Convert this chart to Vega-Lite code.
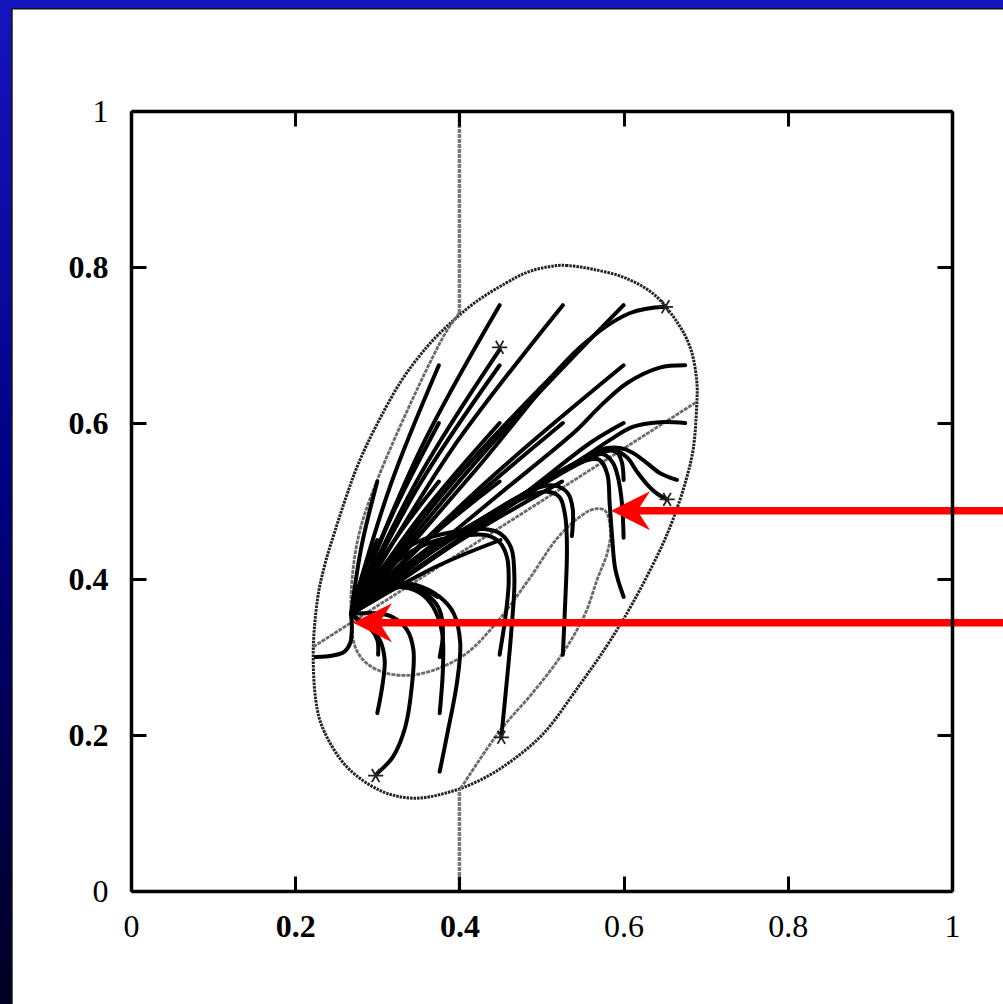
{
"$schema": "https://vega.github.io/schema/vega-lite/v6.json",
"width": 821, "height": 780,
"autosize": {"type": "none"},
"padding": {"left": 131, "top": 111, "right": 51, "bottom": 113},
"background": "#00005a",
"config": {"view": {"stroke": null, "fill": null}},
"resolve": {"axis": {"x": "independent", "y": "independent"}},
"datasets": {
"bg": [{"x": -0.3, "x2": 1.2, "y": -0.3, "y2": 1.3}],
"panel": [{"x": -0.145, "x2": 1.2, "y": -0.3, "y2": 1.131}],
"vline": [{"x": 0.4, "y": 0.741, "y2": 1}, {"x": 0.4, "y": 0, "y2": 0.129}],
"ellipse": [
{"i":0,"x":0.507,"y":0.800},{"i":1,"x":0.53,"y":0.802},{"i":2,"x":0.563,"y":0.797},{"i":3,"x":0.602,"y":0.786},{"i":4,"x":0.638,"y":0.764},{"i":5,"x":0.666,"y":0.728},{"i":6,"x":0.682,"y":0.694},{"i":7,"x":0.689,"y":0.655},{"i":8,"x":0.689,"y":0.621},{"i":9,"x":0.685,"y":0.568},{"i":10,"x":0.675,"y":0.523},{"i":11,"x":0.66,"y":0.476},{"i":12,"x":0.642,"y":0.432},{"i":13,"x":0.611,"y":0.369},{"i":14,"x":0.58,"y":0.315},{"i":15,"x":0.545,"y":0.262},{"i":16,"x":0.505,"y":0.205},{"i":17,"x":0.465,"y":0.168},{"i":18,"x":0.425,"y":0.142},{"i":19,"x":0.385,"y":0.126},{"i":20,"x":0.344,"y":0.119},{"i":21,"x":0.303,"y":0.129},{"i":22,"x":0.263,"y":0.159},{"i":23,"x":0.236,"y":0.203},{"i":24,"x":0.225,"y":0.245},{"i":25,"x":0.222,"y":0.309},{"i":26,"x":0.227,"y":0.373},{"i":27,"x":0.236,"y":0.418},{"i":28,"x":0.248,"y":0.46},{"i":29,"x":0.262,"y":0.505},{"i":30,"x":0.277,"y":0.548},{"i":31,"x":0.298,"y":0.595},{"i":32,"x":0.328,"y":0.652},{"i":33,"x":0.36,"y":0.697},{"i":34,"x":0.389,"y":0.728},{"i":35,"x":0.421,"y":0.756},{"i":36,"x":0.456,"y":0.779},{"i":37,"x":0.482,"y":0.793}
],
"nullclines": [
{"id":"line","i":0,"x":0.222,"y":0.313},{"id":"line","i":1,"x":0.689,"y":0.627},
{"id":"cubic","i":0,"x":0.40,"y":0.741},{"id":"cubic","i":1,"x":0.385,"y":0.719},{"id":"cubic","i":2,"x":0.348,"y":0.642},{"id":"cubic","i":3,"x":0.30,"y":0.527},{"id":"cubic","i":4,"x":0.279,"y":0.463},{"id":"cubic","i":5,"x":0.27,"y":0.408},{"id":"cubic","i":6,"x":0.268,"y":0.36},{"id":"cubic","i":7,"x":0.273,"y":0.313},{"id":"cubic","i":8,"x":0.287,"y":0.292},{"id":"cubic","i":9,"x":0.312,"y":0.279},{"id":"cubic","i":10,"x":0.343,"y":0.277},{"id":"cubic","i":11,"x":0.376,"y":0.286},{"id":"cubic","i":12,"x":0.409,"y":0.305},{"id":"cubic","i":13,"x":0.446,"y":0.345},{"id":"cubic","i":14,"x":0.485,"y":0.40},{"id":"cubic","i":15,"x":0.519,"y":0.452},{"id":"cubic","i":16,"x":0.547,"y":0.48},{"id":"cubic","i":17,"x":0.565,"y":0.49},{"id":"cubic","i":18,"x":0.578,"y":0.487},{"id":"cubic","i":19,"x":0.584,"y":0.46},{"id":"cubic","i":20,"x":0.58,"y":0.433},{"id":"cubic","i":21,"x":0.568,"y":0.40},{"id":"cubic","i":22,"x":0.553,"y":0.355},{"id":"cubic","i":23,"x":0.526,"y":0.305},{"id":"cubic","i":24,"x":0.49,"y":0.255},{"id":"cubic","i":25,"x":0.449,"y":0.205},{"id":"cubic","i":26,"x":0.40,"y":0.129}
],
"traj": [
{"id":"t1","i":0,"x":0.449,"y":0.751},{"id":"t1","i":1,"x":0.352,"y":0.565},{"id":"t1","i":2,"x":0.268,"y":0.355},
{"id":"t2","i":0,"x":0.526,"y":0.751},{"id":"t2","i":1,"x":0.39,"y":0.565},{"id":"t2","i":2,"x":0.268,"y":0.355},
{"id":"t3","i":0,"x":0.6,"y":0.751},{"id":"t3","i":1,"x":0.43,"y":0.562},{"id":"t3","i":2,"x":0.268,"y":0.355},
{"id":"t4","i":0,"x":0.651,"y":0.749},{"id":"t4","i":1,"x":0.608,"y":0.741},{"id":"t4","i":2,"x":0.547,"y":0.697},{"id":"t4","i":3,"x":0.42,"y":0.54},{"id":"t4","i":4,"x":0.268,"y":0.355},
{"id":"t5","i":0,"x":0.375,"y":0.674},{"id":"t5","i":1,"x":0.316,"y":0.52},{"id":"t5","i":2,"x":0.268,"y":0.355},
{"id":"t6","i":0,"x":0.449,"y":0.674},{"id":"t6","i":1,"x":0.352,"y":0.522},{"id":"t6","i":2,"x":0.268,"y":0.355},
{"id":"t7","i":0,"x":0.526,"y":0.674},{"id":"t7","i":1,"x":0.39,"y":0.522},{"id":"t7","i":2,"x":0.268,"y":0.355},
{"id":"t8","i":0,"x":0.6,"y":0.674},{"id":"t8","i":1,"x":0.428,"y":0.52},{"id":"t8","i":2,"x":0.268,"y":0.355},
{"id":"t9","i":0,"x":0.675,"y":0.674},{"id":"t9","i":1,"x":0.644,"y":0.671},{"id":"t9","i":2,"x":0.604,"y":0.651},{"id":"t9","i":3,"x":0.571,"y":0.621},{"id":"t9","i":4,"x":0.543,"y":0.591},{"id":"t9","i":5,"x":0.45,"y":0.51},{"id":"t9","i":6,"x":0.36,"y":0.432},{"id":"t9","i":7,"x":0.268,"y":0.355},
{"id":"t10","i":0,"x":0.449,"y":0.694},{"id":"t10","i":1,"x":0.352,"y":0.533},{"id":"t10","i":2,"x":0.268,"y":0.355},
{"id":"t11","i":0,"x":0.375,"y":0.6},{"id":"t11","i":1,"x":0.318,"y":0.482},{"id":"t11","i":2,"x":0.268,"y":0.355},
{"id":"t12","i":0,"x":0.449,"y":0.6},{"id":"t12","i":1,"x":0.354,"y":0.483},{"id":"t12","i":2,"x":0.268,"y":0.355},
{"id":"t13","i":0,"x":0.526,"y":0.6},{"id":"t13","i":1,"x":0.392,"y":0.48},{"id":"t13","i":2,"x":0.268,"y":0.355},
{"id":"t14","i":0,"x":0.6,"y":0.6},{"id":"t14","i":1,"x":0.56,"y":0.575},{"id":"t14","i":2,"x":0.48,"y":0.51},{"id":"t14","i":3,"x":0.38,"y":0.435},{"id":"t14","i":4,"x":0.268,"y":0.355},
{"id":"t15","i":0,"x":0.675,"y":0.6},{"id":"t15","i":1,"x":0.644,"y":0.601},{"id":"t15","i":2,"x":0.611,"y":0.595},{"id":"t15","i":3,"x":0.583,"y":0.578},{"id":"t15","i":4,"x":0.559,"y":0.561},{"id":"t15","i":5,"x":0.47,"y":0.5},{"id":"t15","i":6,"x":0.37,"y":0.43},{"id":"t15","i":7,"x":0.268,"y":0.355},
{"id":"t16","i":0,"x":0.3,"y":0.525},{"id":"t16","i":1,"x":0.281,"y":0.443},{"id":"t16","i":2,"x":0.268,"y":0.355},
{"id":"t17","i":0,"x":0.375,"y":0.525},{"id":"t17","i":1,"x":0.318,"y":0.445},{"id":"t17","i":2,"x":0.268,"y":0.355},
{"id":"t18","i":0,"x":0.449,"y":0.525},{"id":"t18","i":1,"x":0.355,"y":0.445},{"id":"t18","i":2,"x":0.268,"y":0.355},
{"id":"t19","i":0,"x":0.525,"y":0.525},{"id":"t19","i":1,"x":0.393,"y":0.444},{"id":"t19","i":2,"x":0.268,"y":0.355},
{"id":"t20","i":0,"x":0.3,"y":0.45},{"id":"t20","i":1,"x":0.282,"y":0.405},{"id":"t20","i":2,"x":0.268,"y":0.355},
{"id":"t21","i":0,"x":0.375,"y":0.45},{"id":"t21","i":1,"x":0.32,"y":0.405},{"id":"t21","i":2,"x":0.268,"y":0.355},
{"id":"t22","i":0,"x":0.665,"y":0.527},{"id":"t22","i":1,"x":0.644,"y":0.536},{"id":"t22","i":2,"x":0.628,"y":0.549},{"id":"t22","i":3,"x":0.611,"y":0.562},{"id":"t22","i":4,"x":0.596,"y":0.568},{"id":"t22","i":5,"x":0.58,"y":0.568},{"id":"t22","i":6,"x":0.563,"y":0.562},{"id":"t22","i":7,"x":0.5,"y":0.52},{"id":"t22","i":8,"x":0.4,"y":0.45},{"id":"t22","i":9,"x":0.268,"y":0.355},
{"id":"t23","i":0,"x":0.653,"y":0.502},{"id":"t23","i":1,"x":0.64,"y":0.51},{"id":"t23","i":2,"x":0.628,"y":0.522},{"id":"t23","i":3,"x":0.616,"y":0.538},{"id":"t23","i":4,"x":0.604,"y":0.556},{"id":"t23","i":5,"x":0.587,"y":0.565},{"id":"t23","i":6,"x":0.55,"y":0.55},{"id":"t23","i":7,"x":0.46,"y":0.495},{"id":"t23","i":8,"x":0.36,"y":0.43},{"id":"t23","i":9,"x":0.268,"y":0.355},
{"id":"t24","i":0,"x":0.6,"y":0.527},{"id":"t24","i":1,"x":0.598,"y":0.549},{"id":"t24","i":2,"x":0.592,"y":0.562},{"id":"t24","i":3,"x":0.575,"y":0.565},{"id":"t24","i":4,"x":0.53,"y":0.54},{"id":"t24","i":5,"x":0.44,"y":0.485},{"id":"t24","i":6,"x":0.34,"y":0.42},{"id":"t24","i":7,"x":0.268,"y":0.355},
{"id":"t25","i":0,"x":0.6,"y":0.453},{"id":"t25","i":1,"x":0.598,"y":0.497},{"id":"t25","i":2,"x":0.593,"y":0.531},{"id":"t25","i":3,"x":0.587,"y":0.549},{"id":"t25","i":4,"x":0.575,"y":0.56},{"id":"t25","i":5,"x":0.54,"y":0.548},{"id":"t25","i":6,"x":0.45,"y":0.49},{"id":"t25","i":7,"x":0.35,"y":0.425},{"id":"t25","i":8,"x":0.268,"y":0.355},
{"id":"t26","i":0,"x":0.6,"y":0.377},{"id":"t26","i":1,"x":0.59,"y":0.412},{"id":"t26","i":2,"x":0.586,"y":0.454},{"id":"t26","i":3,"x":0.583,"y":0.497},{"id":"t26","i":4,"x":0.58,"y":0.535},{"id":"t26","i":5,"x":0.57,"y":0.553},{"id":"t26","i":6,"x":0.54,"y":0.547},{"id":"t26","i":7,"x":0.45,"y":0.49},{"id":"t26","i":8,"x":0.35,"y":0.424},{"id":"t26","i":9,"x":0.268,"y":0.355},
{"id":"t27","i":0,"x":0.526,"y":0.303},{"id":"t27","i":1,"x":0.529,"y":0.373},{"id":"t27","i":2,"x":0.531,"y":0.437},{"id":"t27","i":3,"x":0.529,"y":0.48},{"id":"t27","i":4,"x":0.522,"y":0.505},{"id":"t27","i":5,"x":0.507,"y":0.512},{"id":"t27","i":6,"x":0.47,"y":0.5},{"id":"t27","i":7,"x":0.4,"y":0.46},{"id":"t27","i":8,"x":0.33,"y":0.41},{"id":"t27","i":9,"x":0.268,"y":0.355},
{"id":"t28","i":0,"x":0.537,"y":0.455},{"id":"t28","i":1,"x":0.538,"y":0.49},{"id":"t28","i":2,"x":0.532,"y":0.51},{"id":"t28","i":3,"x":0.515,"y":0.52},{"id":"t28","i":4,"x":0.49,"y":0.515},{"id":"t28","i":5,"x":0.45,"y":0.492},{"id":"t28","i":6,"x":0.38,"y":0.445},{"id":"t28","i":7,"x":0.31,"y":0.39},{"id":"t28","i":8,"x":0.268,"y":0.355},
{"id":"t29","i":0,"x":0.449,"y":0.303},{"id":"t29","i":1,"x":0.456,"y":0.351},{"id":"t29","i":2,"x":0.46,"y":0.395},{"id":"t29","i":3,"x":0.458,"y":0.428},{"id":"t29","i":4,"x":0.449,"y":0.447},{"id":"t29","i":5,"x":0.433,"y":0.456},{"id":"t29","i":6,"x":0.4,"y":0.455},{"id":"t29","i":7,"x":0.36,"y":0.445},{"id":"t29","i":8,"x":0.32,"y":0.42},{"id":"t29","i":9,"x":0.29,"y":0.39},{"id":"t29","i":10,"x":0.268,"y":0.355},
{"id":"t30","i":0,"x":0.451,"y":0.197},{"id":"t30","i":1,"x":0.456,"y":0.25},{"id":"t30","i":2,"x":0.463,"y":0.33},{"id":"t30","i":3,"x":0.467,"y":0.4},{"id":"t30","i":4,"x":0.463,"y":0.44},{"id":"t30","i":5,"x":0.45,"y":0.458},{"id":"t30","i":6,"x":0.43,"y":0.464},{"id":"t30","i":7,"x":0.39,"y":0.46},{"id":"t30","i":8,"x":0.35,"y":0.448},{"id":"t30","i":9,"x":0.31,"y":0.418},{"id":"t30","i":10,"x":0.285,"y":0.385},{"id":"t30","i":11,"x":0.268,"y":0.355},
{"id":"t31","i":0,"x":0.376,"y":0.3},{"id":"t31","i":1,"x":0.38,"y":0.331},{"id":"t31","i":2,"x":0.376,"y":0.36},{"id":"t31","i":3,"x":0.364,"y":0.377},{"id":"t31","i":4,"x":0.343,"y":0.388},{"id":"t31","i":5,"x":0.319,"y":0.39},{"id":"t31","i":6,"x":0.295,"y":0.377},{"id":"t31","i":7,"x":0.275,"y":0.36},{"id":"t31","i":8,"x":0.268,"y":0.355},
{"id":"t32","i":0,"x":0.376,"y":0.228},{"id":"t32","i":1,"x":0.38,"y":0.287},{"id":"t32","i":2,"x":0.379,"y":0.331},{"id":"t32","i":3,"x":0.368,"y":0.364},{"id":"t32","i":4,"x":0.352,"y":0.382},{"id":"t32","i":5,"x":0.324,"y":0.39},{"id":"t32","i":6,"x":0.295,"y":0.382},{"id":"t32","i":7,"x":0.268,"y":0.355},
{"id":"t33","i":0,"x":0.376,"y":0.153},{"id":"t33","i":1,"x":0.385,"y":0.2},{"id":"t33","i":2,"x":0.397,"y":0.267},{"id":"t33","i":3,"x":0.401,"y":0.318},{"id":"t33","i":4,"x":0.393,"y":0.356},{"id":"t33","i":5,"x":0.376,"y":0.377},{"id":"t33","i":6,"x":0.348,"y":0.392},{"id":"t33","i":7,"x":0.312,"y":0.395},{"id":"t33","i":8,"x":0.283,"y":0.377},{"id":"t33","i":9,"x":0.268,"y":0.355},
{"id":"t34","i":0,"x":0.301,"y":0.303},{"id":"t34","i":1,"x":0.3,"y":0.322},{"id":"t34","i":2,"x":0.291,"y":0.337},{"id":"t34","i":3,"x":0.279,"y":0.345},{"id":"t34","i":4,"x":0.268,"y":0.355},
{"id":"t35","i":0,"x":0.3,"y":0.228},{"id":"t35","i":1,"x":0.306,"y":0.262},{"id":"t35","i":2,"x":0.309,"y":0.296},{"id":"t35","i":3,"x":0.303,"y":0.322},{"id":"t35","i":4,"x":0.291,"y":0.337},{"id":"t35","i":5,"x":0.268,"y":0.355},
{"id":"t36","i":0,"x":0.3,"y":0.151},{"id":"t36","i":1,"x":0.319,"y":0.172},{"id":"t36","i":2,"x":0.334,"y":0.21},{"id":"t36","i":3,"x":0.342,"y":0.262},{"id":"t36","i":4,"x":0.344,"y":0.309},{"id":"t36","i":5,"x":0.336,"y":0.335},{"id":"t36","i":6,"x":0.319,"y":0.351},{"id":"t36","i":7,"x":0.3,"y":0.356},{"id":"t36","i":8,"x":0.268,"y":0.355},
{"id":"t37","i":0,"x":0.225,"y":0.3},{"id":"t37","i":1,"x":0.246,"y":0.302},{"id":"t37","i":2,"x":0.26,"y":0.307},{"id":"t37","i":3,"x":0.267,"y":0.318},{"id":"t37","i":4,"x":0.269,"y":0.336},{"id":"t37","i":5,"x":0.268,"y":0.355},
{"id":"t38","i":0,"x":0.373,"y":0.377},{"id":"t38","i":1,"x":0.355,"y":0.387},{"id":"t38","i":2,"x":0.33,"y":0.39},{"id":"t38","i":3,"x":0.3,"y":0.38},{"id":"t38","i":4,"x":0.268,"y":0.355},
{"id":"t40","i":0,"x":0.3,"y":0.375},{"id":"t40","i":1,"x":0.285,"y":0.366},{"id":"t40","i":2,"x":0.268,"y":0.355},
{"id":"t41","i":0,"x":0.45,"y":0.45},{"id":"t41","i":1,"x":0.37,"y":0.415},{"id":"t41","i":2,"x":0.268,"y":0.355}
],
"stars": [{"x":0.651,"y":0.749},{"x":0.449,"y":0.697},{"x":0.298,"y":0.148},{"x":0.451,"y":0.197},{"x":0.653,"y":0.502}],
"arrows": [{"tip":0.5847,"x":0.614,"x2":1.1,"y":0.4875},{"tip":0.2704,"x":0.30,"x2":1.1,"y":0.344}]
},
"layer": [
{"data": {"name": "bg"}, "mark": {"type": "rect", "fill": {"gradient": "linear", "x1": 0, "y1": 0, "x2": 0, "y2": 1, "stops": [{"offset": 0, "color": "#1a1ad0"}, {"offset": 0.5, "color": "#000080"}, {"offset": 1, "color": "#00000a"}]}},
 "encoding": {"x": {"field": "x", "type": "quantitative", "scale": {"domain": [0, 1], "nice": false, "zero": false}, "axis": null}, "x2": {"field": "x2"}, "y": {"field": "y", "type": "quantitative", "scale": {"domain": [0, 1], "nice": false, "zero": false}, "axis": null}, "y2": {"field": "y2"}}},
{"data": {"name": "panel"}, "mark": {"type": "rect", "fill": "#ffffff", "stroke": "#101010", "strokeWidth": 1.5},
 "encoding": {"x": {"field": "x", "type": "quantitative", "axis": null}, "x2": {"field": "x2"}, "y": {"field": "y", "type": "quantitative", "axis": null}, "y2": {"field": "y2"}}},
{"data": {"name": "vline"}, "mark": {"type": "rule", "color": "#7a7a7a", "strokeWidth": 3.5, "strokeDash": [4, 1]},
 "encoding": {
  "x": {"field": "x", "type": "quantitative", "axis": {"orient": "bottom", "values": [0, 0.2, 0.4, 0.6, 0.8, 1], "format": "~g", "title": null, "grid": false, "domain": true, "domainColor": "#000000", "domainWidth": 3.5, "ticks": true, "tickSize": -15, "tickWidth": 3, "tickColor": "#000000", "labelPadding": 35, "labelFont": "Liberation Serif", "labelFontSize": 32, "labelColor": "#000000", "labelFlush": false, "labelOverlap": false, "zindex": 1, "labelFontWeight": {"condition": {"test": "datum.value == 0.2 || datum.value == 0.4", "value": "bold"}, "value": "normal"}}},
  "y": {"field": "y", "type": "quantitative", "axis": {"orient": "left", "values": [0, 0.2, 0.4, 0.6, 0.8, 1], "format": "~g", "title": null, "grid": false, "domain": true, "domainColor": "#000000", "domainWidth": 3.5, "ticks": true, "tickSize": -15, "tickWidth": 3, "tickColor": "#000000", "labelPadding": 38, "labelFont": "Liberation Serif", "labelFontSize": 32, "labelColor": "#000000", "labelFlush": false, "labelOverlap": false, "zindex": 1, "labelFontWeight": {"condition": {"test": "datum.value > 0.1 && datum.value < 0.9", "value": "bold"}, "value": "normal"}}},
  "y2": {"field": "y2"}}},
{"data": {"name": "ellipse"}, "mark": {"type": "line", "interpolate": "cardinal-closed", "color": "#222222", "strokeWidth": 3, "strokeDash": [2.5, 1]},
 "encoding": {"x": {"field": "x", "type": "quantitative", "axis": null}, "y": {"field": "y", "type": "quantitative", "axis": null}, "order": {"field": "i"}}},
{"data": {"name": "nullclines"}, "mark": {"type": "line", "interpolate": "catmull-rom", "color": "#6a6a6a", "strokeWidth": 2.8, "strokeDash": [4, 1]},
 "encoding": {"x": {"field": "x", "type": "quantitative", "axis": null}, "y": {"field": "y", "type": "quantitative", "axis": null}, "detail": {"field": "id"}, "order": {"field": "i"}}},
{"data": {"name": "traj"}, "mark": {"type": "line", "interpolate": "catmull-rom", "color": "#000000", "strokeWidth": 4, "strokeCap": "round"},
 "encoding": {"x": {"field": "x", "type": "quantitative", "axis": null}, "y": {"field": "y", "type": "quantitative", "axis": null}, "detail": {"field": "id"}, "order": {"field": "i"}}},
{"data": {"name": "stars"}, "mark": {"type": "point", "shape": "M-1,0L1,0M-0.5,-0.866L0.5,0.866M-0.5,0.866L0.5,-0.866", "size": 230, "filled": false, "stroke": "#222222", "strokeWidth": 1.8, "opacity": 1},
 "encoding": {
  "x": {"field": "x", "type": "quantitative", "axis": {"orient": "top", "values": [0, 0.2, 0.4, 0.6, 0.8, 1], "title": null, "grid": false, "domain": true, "domainColor": "#000000", "domainWidth": 3.5, "labels": false, "ticks": true, "tickSize": -15, "tickWidth": 3, "tickColor": "#000000", "zindex": 1}},
  "y": {"field": "y", "type": "quantitative", "axis": {"orient": "right", "values": [0, 0.2, 0.4, 0.6, 0.8, 1], "title": null, "grid": false, "domain": true, "domainColor": "#000000", "domainWidth": 3.5, "labels": false, "ticks": true, "tickSize": -15, "tickWidth": 3, "tickColor": "#000000", "zindex": 1}}}},
{"data": {"name": "arrows"}, "mark": {"type": "rule", "color": "#ff0000", "strokeWidth": 7.5, "strokeCap": "butt"},
 "encoding": {"x": {"field": "x", "type": "quantitative", "axis": null}, "x2": {"field": "x2"}, "y": {"field": "y", "type": "quantitative", "axis": null}}},
{"data": {"name": "arrows"}, "mark": {"type": "point", "shape": "M0,0L2,-1L1.35,0L2,1Z", "size": 1521, "filled": true, "fill": "#ff0000", "strokeWidth": 0, "opacity": 1},
 "encoding": {"x": {"field": "tip", "type": "quantitative", "axis": null}, "y": {"field": "y", "type": "quantitative", "axis": null}}}
]
}
